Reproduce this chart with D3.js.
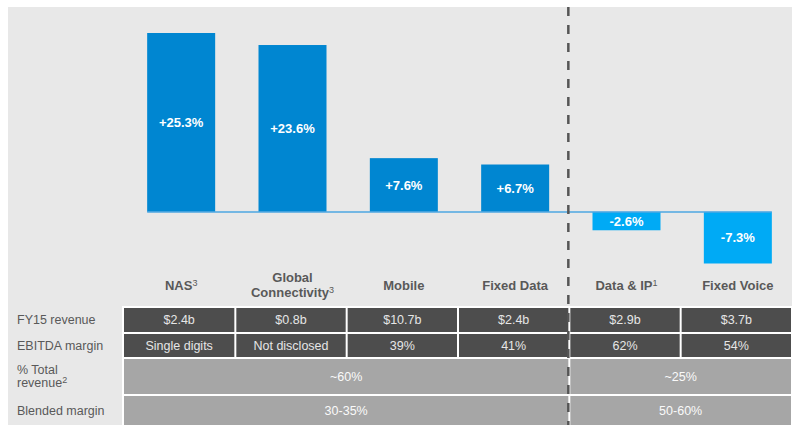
<!DOCTYPE html>
<html>
<head>
<meta charset="utf-8">
<script src="https://cdn.jsdelivr.net/npm/d3@7"></script>
<style>
  body { margin: 0; background: #fff; }
  svg text { font-family: "Liberation Sans", Arial, sans-serif; }
</style>
</head>
<body>
<svg id="chart" width="792" height="425"></svg>
<script>
// segment names + footnote marks
const categories = ["NAS", "Global Connectivity", "Mobile", "Fixed Data", "Data & IP", "Fixed Voice"];
const catLines = [["NAS"], ["Global", "Connectivity"], ["Mobile"], ["Fixed Data"], ["Data & IP"], ["Fixed Voice"]];
const footnotes = ["3", "3", "", "", "1", ""];
// revenue growth, %
const growth = [25.3, 23.6, 7.6, 6.7, -2.6, -7.3];
// table rows
const rowLabels = [["FY15 revenue"], ["EBITDA margin"], ["% Total", "revenue"], ["Blended margin"]];
const rowFootnotes = ["", "", "2", ""];
const revenue = ["$2.4b", "$0.8b", "$10.7b", "$2.4b", "$2.9b", "$3.7b"];
const ebitda = ["Single digits", "Not disclosed", "39%", "41%", "62%", "54%"];
const groupStart = [0, 4];
const groupEnd = [3, 5];
const totalRevenue = ["~60%", "~25%"];
const blendedMargin = ["30-35%", "50-60%"];

const W = 792, H = 425;
const svg = d3.select("#chart");

// grey panel
svg.append("rect").attr("x", 8).attr("y", 7).attr("width", W - 8).attr("height", H - 7).attr("fill", "#e8e8e8");

const x = d3.scaleBand().domain(categories).range([124, 792]);
const y = d3.scaleLinear().domain([-7.3, 25.3]).range([263.5, 33]);
const barW = 68;
const cx = d => x(d) + x.bandwidth() / 2 + 1.5;

// bars
svg.selectAll(".bar")
  .data(categories)
  .enter().append("rect")
  .attr("class", "bar")
  .attr("x", d => cx(d) - barW / 2)
  .attr("width", barW)
  .attr("y", (d, i) => Math.min(y(growth[i]), y(0)))
  .attr("height", (d, i) => Math.abs(y(growth[i]) - y(0)))
  .attr("fill", (d, i) => growth[i] >= 0 ? "#0086d1" : "#00aaf5");

// zero line
svg.append("line")
  .attr("x1", cx(categories[0]) - barW / 2).attr("x2", cx(categories[5]) + barW / 2)
  .attr("y1", y(0)).attr("y2", y(0))
  .attr("stroke", "#4ea7e2").attr("stroke-width", 1.5);

// value labels
svg.selectAll(".val")
  .data(categories)
  .enter().append("text")
  .attr("class", "val")
  .attr("x", d => cx(d))
  .attr("y", (d, i) => (y(growth[i]) + y(0)) / 2)
  .attr("dy", "0.35em")
  .attr("text-anchor", "middle")
  .attr("fill", "#fff")
  .attr("font-weight", "bold")
  .attr("font-size", 13)
  .text((d, i) => (growth[i] > 0 ? "+" : "") + growth[i].toFixed(1) + "%");

// category labels
categories.forEach((c, i) => {
  const lines = catLines[i];
  const y0 = lines.length > 1 ? 282 : 290;
  lines.forEach((ln, j) => {
    const t = svg.append("text")
      .attr("x", cx(c))
      .attr("y", y0 + j * 14.5)
      .attr("text-anchor", "middle")
      .attr("fill", "#595959")
      .attr("font-weight", "bold")
      .attr("font-size", 13);
    t.append("tspan").text(ln);
    if (j == lines.length - 1 && footnotes[i]) {
      t.append("tspan").attr("font-size", 9).attr("font-weight", "normal").attr("dy", -4).text(footnotes[i]);
    }
  });
});

// table
const rowY = [308, 334, 359, 396];
const rowH = [24, 23, 35, 29];
svg.append("rect").attr("x", 122).attr("y", 306).attr("width", W - 122).attr("height", H - 306).attr("fill", "#fff");

function cellRow(r, vals, starts, ends, fill, color) {
  vals.forEach((v, k) => {
    const x0 = x(categories[starts[k]]) + (starts[k] == 0 ? 0 : 1);
    const x1 = x(categories[ends[k]]) + x.bandwidth() - 1;
    svg.append("rect").attr("x", x0).attr("y", rowY[r]).attr("width", x1 - x0).attr("height", rowH[r]).attr("fill", fill);
    svg.append("text")
      .attr("x", (x0 + x1) / 2).attr("y", rowY[r] + rowH[r] / 2).attr("dy", "0.35em")
      .attr("text-anchor", "middle").attr("fill", color).attr("font-size", 12.5)
      .text(v);
  });
}
const idx = categories.map((d, i) => i);
cellRow(0, revenue, idx, idx, "#4d4d4d", "#e6e6e6");
cellRow(1, ebitda, idx, idx, "#4d4d4d", "#e6e6e6");
cellRow(2, totalRevenue, groupStart, groupEnd, "#a6a6a6", "#fafafa");
cellRow(3, blendedMargin, groupStart, groupEnd, "#a6a6a6", "#fafafa");

// row labels
rowLabels.forEach((lines, r) => {
  const mid = rowY[r] + rowH[r] / 2;
  lines.forEach((ln, j) => {
    const t = svg.append("text")
      .attr("x", 17)
      .attr("y", mid + (j - (lines.length - 1) / 2) * 13)
      .attr("dy", "0.35em")
      .attr("fill", "#595959").attr("font-size", 12.5);
    t.append("tspan").text(ln);
    if (j == lines.length - 1 && rowFootnotes[r]) {
      t.append("tspan").attr("font-size", 9).attr("dy", -4).text(rowFootnotes[r]);
    }
  });
});

// divider
const divX = x(categories[4]) - 1;
svg.append("line")
  .attr("x1", divX).attr("x2", divX).attr("y1", 7).attr("y2", H)
  .attr("stroke", "#555").attr("stroke-width", 2.5).attr("stroke-dasharray", "9,9");
</script>
</body>
</html>
